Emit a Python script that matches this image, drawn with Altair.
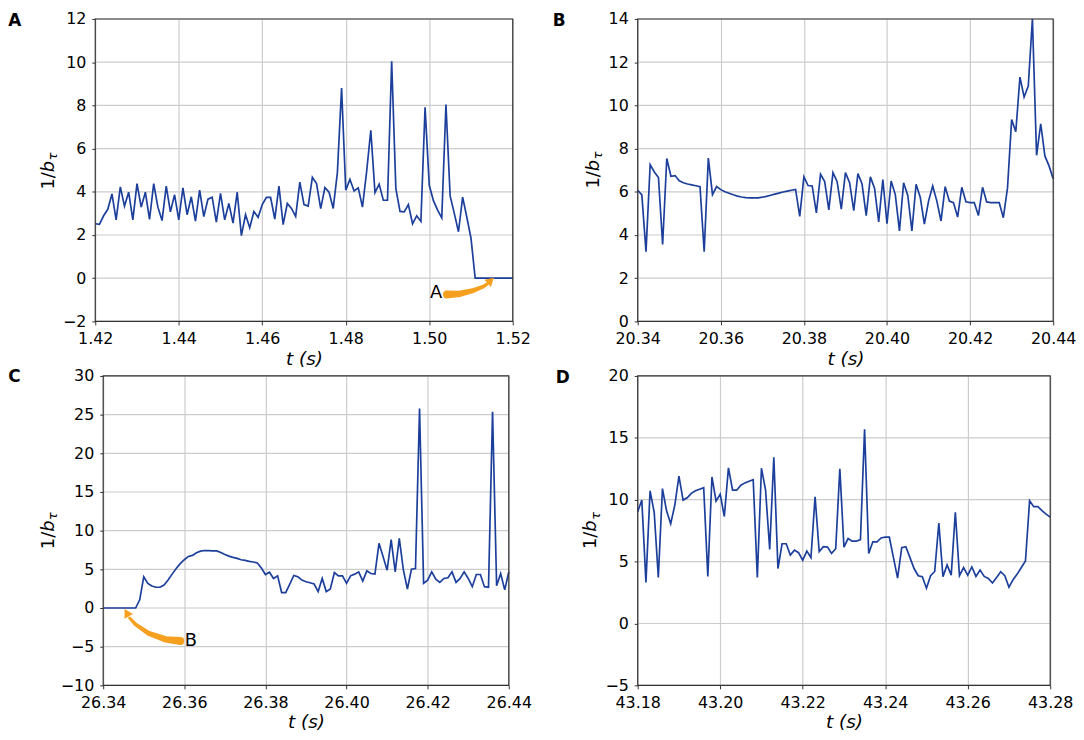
import altair as alt
import pandas as pd

FONT = "DejaVu Sans"
LINE = "#1c3f9b"
ORANGE = "#f5a01e"
GRID = "#cccccc"

# ---------------- data ----------------
t_A = [1.420, 1.421, 1.422, 1.423, 1.424, 1.425, 1.426, 1.427, 1.428, 1.429,
       1.430, 1.431, 1.432, 1.433, 1.434, 1.435, 1.436, 1.437, 1.438, 1.439,
       1.440, 1.441, 1.442, 1.443, 1.444, 1.445, 1.446, 1.447, 1.448, 1.449,
       1.450, 1.451, 1.452, 1.453, 1.454, 1.455, 1.456, 1.457, 1.458, 1.459,
       1.460, 1.461, 1.462, 1.463, 1.464, 1.465, 1.466, 1.467, 1.468, 1.469,
       1.470, 1.471, 1.472, 1.473, 1.474, 1.475, 1.476, 1.477, 1.478, 1.479,
       1.480, 1.481, 1.482, 1.483, 1.484, 1.485, 1.486, 1.487, 1.488, 1.489,
       1.490, 1.491, 1.492, 1.493, 1.494, 1.495, 1.496, 1.497, 1.498, 1.499,
       1.500, 1.501, 1.502, 1.503, 1.504, 1.505, 1.506, 1.507, 1.508, 1.509,
       1.510, 1.511, 1.512, 1.513, 1.514, 1.515, 1.516, 1.517, 1.518, 1.519,
       1.520]
v_A = [2.52, 2.49, 2.89, 3.19, 3.90, 2.70, 4.23, 3.34, 3.98, 2.70,
       4.38, 3.29, 3.98, 2.72, 4.38, 3.29, 2.67, 4.26, 3.07, 3.86,
       2.70, 4.18, 2.94, 3.77, 2.64, 4.08, 2.85, 3.66, 3.75, 2.60,
       3.93, 2.70, 3.46, 2.55, 3.98, 1.97, 2.94, 2.34, 3.09, 2.82,
       3.41, 3.74, 3.74, 2.74, 4.26, 2.48, 3.46, 3.23, 2.86, 4.45,
       3.41, 3.34, 4.67, 4.38, 3.22, 4.20, 3.98, 3.23, 4.90, 8.80,
       4.08, 4.57, 4.04, 4.18, 3.29, 4.93, 6.85, 3.96, 4.35, 3.61,
       3.61, 10.04, 4.15, 3.09, 3.07, 3.41, 2.52, 2.89, 2.63, 7.91,
       4.30, 3.59, 3.15, 2.79, 8.04, 3.81, 3.00, 2.15, 3.75, 2.82,
       1.85, 0.0, 0.0, 0.0, 0.0, 0.0, 0.0, 0.0, 0.0, 0.0,
       0.0]

t_B = [20.340, 20.341, 20.342, 20.343, 20.344, 20.345, 20.346, 20.347, 20.348, 20.349,
       20.350, 20.351, 20.352, 20.353, 20.354, 20.355, 20.356, 20.357, 20.358, 20.359,
       20.360, 20.361, 20.362, 20.363, 20.364, 20.365, 20.366, 20.367, 20.368, 20.369,
       20.370, 20.371, 20.372, 20.373, 20.374, 20.375, 20.376, 20.377, 20.378, 20.379,
       20.380, 20.381, 20.382, 20.383, 20.384, 20.385, 20.386, 20.387, 20.388, 20.389,
       20.390, 20.391, 20.392, 20.393, 20.394, 20.395, 20.396, 20.397, 20.398, 20.399,
       20.400, 20.401, 20.402, 20.403, 20.404, 20.405, 20.406, 20.407, 20.408, 20.409,
       20.410, 20.411, 20.412, 20.413, 20.414, 20.415, 20.416, 20.417, 20.418, 20.419,
       20.420, 20.421, 20.422, 20.423, 20.424, 20.425, 20.426, 20.427, 20.428, 20.429,
       20.430, 20.431, 20.432, 20.433, 20.434, 20.435, 20.436, 20.437, 20.438, 20.439,
       20.440]
v_B = [6.07, 5.86, 3.23, 7.26, 6.92, 6.66, 3.56, 7.54, 6.72, 6.75,
       6.51, 6.42, 6.36, 6.32, 6.28, 6.24, 3.23, 7.56, 5.87, 6.24,
       6.10, 6.00, 5.93, 5.86, 5.80, 5.76, 5.73, 5.72, 5.72, 5.72,
       5.75, 5.79, 5.84, 5.89, 5.94, 5.99, 6.03, 6.07, 6.11, 4.86,
       6.69, 6.29, 6.27, 5.02, 6.81, 6.47, 5.16, 6.89, 6.47, 5.20,
       6.89, 6.42, 5.13, 6.84, 6.36, 4.90, 6.69, 6.17, 4.61, 6.57,
       4.53, 6.50, 5.87, 4.19, 6.42, 5.83, 4.19, 6.35, 5.75, 4.50,
       5.57, 6.27, 5.57, 4.65, 6.24, 5.57, 5.50, 4.83, 6.21, 5.54,
       5.50, 5.50, 4.90, 6.21, 5.53, 5.50, 5.50, 5.50, 4.80, 6.17,
       9.34, 8.78, 11.31, 10.39, 10.89, 14.00, 7.69, 9.15, 7.66, 7.20,
       6.60]

t_C = [26.340, 26.341, 26.342, 26.343, 26.344, 26.345, 26.346, 26.347, 26.348, 26.349,
       26.350, 26.351, 26.352, 26.353, 26.354, 26.355, 26.356, 26.357, 26.358, 26.359,
       26.360, 26.361, 26.362, 26.363, 26.364, 26.365, 26.366, 26.367, 26.368, 26.369,
       26.370, 26.371, 26.372, 26.373, 26.374, 26.375, 26.376, 26.377, 26.378, 26.379,
       26.380, 26.381, 26.382, 26.383, 26.384, 26.385, 26.386, 26.387, 26.388, 26.389,
       26.390, 26.391, 26.392, 26.393, 26.394, 26.395, 26.396, 26.397, 26.398, 26.399,
       26.400, 26.401, 26.402, 26.403, 26.404, 26.405, 26.406, 26.407, 26.408, 26.409,
       26.410, 26.411, 26.412, 26.413, 26.414, 26.415, 26.416, 26.417, 26.418, 26.419,
       26.420, 26.421, 26.422, 26.423, 26.424, 26.425, 26.426, 26.427, 26.428, 26.429,
       26.430, 26.431, 26.432, 26.433, 26.434, 26.435, 26.436, 26.437, 26.438, 26.439,
       26.440]
v_C = [0.0, 0.0, 0.0, 0.0, 0.0, 0.0, 0.0, 0.0, 0.0, 1.06,
       4.04, 3.19, 2.85, 2.68, 2.68, 2.97, 3.61, 4.38, 5.10, 5.73,
       6.24, 6.67, 6.80, 7.14, 7.35, 7.43, 7.43, 7.39, 7.39, 7.18,
       6.92, 6.71, 6.54, 6.41, 6.24, 6.16, 6.03, 5.95, 5.82, 5.18,
       4.33, 4.63, 3.82, 4.16, 2.00, 2.00, 3.10, 4.21, 4.04, 3.61,
       3.40, 3.27, 3.10, 2.12, 3.82, 2.12, 2.46, 4.59, 4.16, 4.16,
       3.19, 4.16, 4.38, 4.67, 3.48, 4.80, 4.46, 4.38, 8.37, 6.67,
       4.89, 8.84, 4.67, 9.01, 4.97, 2.46, 5.01, 5.10, 25.79, 3.19,
       3.61, 4.67, 3.74, 3.31, 3.82, 3.91, 4.67, 3.31, 3.82, 4.67,
       3.82, 2.76, 4.33, 4.33, 2.76, 2.68, 25.36, 2.89, 4.46, 2.34,
       4.67]

t_D = [43.180, 43.181, 43.182, 43.183, 43.184, 43.185, 43.186, 43.187, 43.188, 43.189,
       43.190, 43.191, 43.192, 43.193, 43.194, 43.195, 43.196, 43.197, 43.198, 43.199,
       43.200, 43.201, 43.202, 43.203, 43.204, 43.205, 43.206, 43.207, 43.208, 43.209,
       43.210, 43.211, 43.212, 43.213, 43.214, 43.215, 43.216, 43.217, 43.218, 43.219,
       43.220, 43.221, 43.222, 43.223, 43.224, 43.225, 43.226, 43.227, 43.228, 43.229,
       43.230, 43.231, 43.232, 43.233, 43.234, 43.235, 43.236, 43.237, 43.238, 43.239,
       43.240, 43.241, 43.242, 43.243, 43.244, 43.245, 43.246, 43.247, 43.248, 43.249,
       43.250, 43.251, 43.252, 43.253, 43.254, 43.255, 43.256, 43.257, 43.258, 43.259,
       43.260, 43.261, 43.262, 43.263, 43.264, 43.265, 43.266, 43.267, 43.268, 43.269,
       43.270, 43.271, 43.272, 43.273, 43.274, 43.275, 43.276, 43.277, 43.278, 43.279,
       43.280]
v_D = [9.04, 9.97, 3.32, 10.72, 8.99, 3.72, 10.90, 9.10, 8.06, 9.57,
       11.91, 9.97, 10.16, 10.51, 10.72, 10.85, 10.98, 3.80, 11.84, 9.89,
       10.45, 8.64, 12.58, 10.77, 10.77, 11.17, 11.36, 11.49, 11.62, 3.72,
       12.55, 10.77, 5.98, 13.43, 4.44, 6.44, 6.44, 5.53, 5.93, 5.72,
       5.11, 5.85, 5.32, 10.24, 5.80, 6.20, 6.17, 5.66, 6.04, 12.50,
       6.17, 6.86, 6.65, 6.65, 6.78, 15.69, 5.66, 6.60, 6.60, 6.91,
       6.97, 6.97, 5.32, 3.67, 6.12, 6.20, 5.32, 4.44, 3.86, 3.78,
       2.85, 3.86, 4.20, 8.11, 3.78, 4.73, 3.91, 8.99, 3.86, 4.52,
       3.91, 4.57, 3.80, 4.31, 3.80, 3.64, 3.27, 3.72, 4.18, 3.86,
       2.93, 3.54, 3.99, 4.52, 5.05, 9.92, 9.44, 9.44, 9.12, 8.83,
       8.59]

# axis ranges and tick values
xdom_A, xticks_A = [1.42, 1.52], [1.42, 1.44, 1.46, 1.48, 1.50, 1.52]
ydom_A, yticks_A = [-2, 12], [-2, 0, 2, 4, 6, 8, 10, 12]
xdom_B, xticks_B = [20.34, 20.44], [20.34, 20.36, 20.38, 20.40, 20.42, 20.44]
ydom_B, yticks_B = [0, 14], [0, 2, 4, 6, 8, 10, 12, 14]
xdom_C, xticks_C = [26.34, 26.44], [26.34, 26.36, 26.38, 26.40, 26.42, 26.44]
ydom_C, yticks_C = [-10, 30], [-10, -5, 0, 5, 10, 15, 20, 25, 30]
xdom_D, xticks_D = [43.18, 43.28], [43.18, 43.20, 43.22, 43.24, 43.26, 43.28]
ydom_D, yticks_D = [-5, 20], [-5, 0, 5, 10, 15, 20]

# annotation arrows (data coordinates), width in px along the body
arrowA_t = [1.50424, 1.50724, 1.51042, 1.51280, 1.51398]
arrowA_v = [-0.756, -0.724, -0.578, -0.400, -0.253]
arrowA_w = [8.0, 6.5, 5.0, 3.8, 3.0]
headA = (1.51449, -0.155, 48)
noteA = ("A", 1.50163, -0.697)

arrowB_t = [26.3590, 26.35533, 26.35125, 26.34800, 26.34653]
arrowB_v = [-4.27, -4.05, -3.29, -2.14, -1.30]
arrowB_w = [8.0, 6.5, 5.0, 3.8, 3.0]
headB = (26.34595, -0.765, 331)
noteB = ("B", 26.36164, -4.24)


def panel(t, v, xdom, xticks, ydom, yticks, w, h, letter, lab_dx, lab_dy,
          yt_dx, yt_dy, arrow=None, head=None, note=None, shift=0):
    # shift: the plot area starts `shift` px right of the group origin
    W = w + shift
    df = pd.DataFrame({"t": t, "v": v})
    X = alt.X("t:Q", scale=alt.Scale(domain=xdom, nice=False, zero=False, range=[shift, W]),
              axis=alt.Axis(values=xticks, format=".2f", title="t (s)"))
    Y = alt.Y("v:Q", scale=alt.Scale(domain=ydom, nice=False, zero=False),
              axis=alt.Axis(values=yticks, format="d", title=None, grid=False,
                            offset=-shift))
    one = pd.DataFrame({"k": [0]})
    layers = []
    gdf = pd.DataFrame({"v": yticks})
    layers.append(alt.Chart(gdf).mark_rule(color=GRID, strokeWidth=1.2).encode(
        y=Y, x=alt.value(shift), x2=alt.value(W)))
    layers.append(alt.Chart(df).mark_line(color=LINE, strokeWidth=1.7)
                  .encode(x=X, y=Y))
    if arrow is not None:
        at, av, aw = arrow
        adf = pd.DataFrame({"t": at, "v": av, "w": aw, "o": list(range(len(at)))})
        layers.append(alt.Chart(adf).mark_trail(color=ORANGE).encode(
            x=X, y=Y, size=alt.Size("w:Q", scale=None, legend=None), order="o:Q"))
        hdf = pd.DataFrame({"t": [head[0]], "v": [head[1]]})
        layers.append(alt.Chart(hdf).mark_point(
            shape="triangle", filled=True, color=ORANGE, opacity=1, size=95,
            angle=head[2]).encode(x=X, y=Y))
        ndf = pd.DataFrame({"s": [note[0]], "t": [note[1]], "v": [note[2]]})
        layers.append(alt.Chart(ndf).mark_text(
            font=FONT, fontSize=18, color="black", align="center",
            baseline="middle").encode(x=X, y=Y, text="s:N"))
    layers.append(alt.Chart(one).mark_rect(fillOpacity=0, stroke="#333333",
                                           strokeWidth=1.2)
                  .encode(x=alt.value(shift), x2=alt.value(W), y=alt.value(0), y2=alt.value(h)))
    layers.append(alt.Chart(one).mark_text(
        text=letter, font=FONT, fontSize=17, fontWeight="bold", align="left",
        baseline="alphabetic", color="black").encode(
            x=alt.value(lab_dx + shift), y=alt.value(lab_dy)))
    y0 = h / 2 + yt_dy
    xt = yt_dx + shift
    layers.append(alt.Chart(one).mark_text(
        text="1/", font=FONT, fontSize=18, angle=270, align="left",
        baseline="alphabetic", color="black").encode(x=alt.value(xt), y=alt.value(y0)))
    layers.append(alt.Chart(one).mark_text(
        text="b", font=FONT, fontSize=18, fontStyle="italic", angle=270, align="left",
        baseline="alphabetic", color="black").encode(x=alt.value(xt), y=alt.value(y0 - 17.5)))
    layers.append(alt.Chart(one).mark_text(
        text="τ", font=FONT, fontSize=13, fontStyle="italic", angle=270, align="left",
        baseline="alphabetic", color="black").encode(x=alt.value(xt + 3.5), y=alt.value(y0 - 29.5)))
    return alt.layer(*layers).properties(width=W, height=h)


pA = panel(t_A, v_A, xdom_A, xticks_A, ydom_A, yticks_A, 421, 305, "A", -87.7, 7,
           -42, 19.5, (arrowA_t, arrowA_v, arrowA_w), headA, noteA)
pB = panel(t_B, v_B, xdom_B, xticks_B, ydom_B, yticks_B, 419, 305, "B", -85.7, 7,
           -39, 18.5)
pC = panel(t_C, v_C, xdom_C, xticks_C, ydom_C, yticks_C, 409, 312, "C", -95.7, 6.3,
           -50, 18.7, (arrowB_t, arrowB_v, arrowB_w), headB, noteB, shift=8)
pD = panel(t_D, v_D, xdom_D, xticks_D, ydom_D, yticks_D, 416, 312, "D", -82.7, 6.7,
           -42, 18.5)

row1 = alt.hconcat(pA, pB, spacing=22)
row2 = alt.hconcat(pC, pD, spacing=24)

chart = alt.vconcat(row1, row2, spacing=0).properties(
    padding={"left": 0, "top": 0, "right": 0, "bottom": 0}
).configure(font=FONT).configure_axis(
    labelFont=FONT, labelFontSize=16, labelColor="black", labelFlush=False,
    labelOverlap=False, labelPadding=6,
    tickColor="#333333", tickSize=3.5, tickWidth=1,
    domain=False, gridColor=GRID, gridWidth=1.2,
    titleFont=FONT, titleFontSize=18.5, titleFontStyle="italic",
    titleFontWeight="normal", titleColor="black", titlePadding=2.5,
).configure_view(strokeWidth=0)

chart.save("out.html", embed_options={"renderer": "svg", "actions": False})
